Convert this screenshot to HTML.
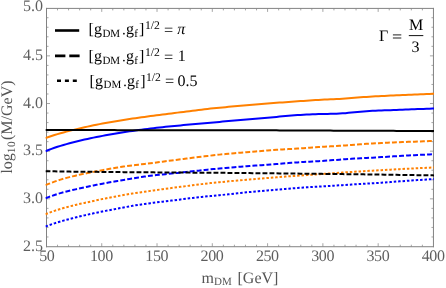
<!DOCTYPE html>
<html><head><meta charset="utf-8"><title>plot</title>
<style>
html,body{margin:0;padding:0;background:#fff;}
body{width:446px;height:288px;overflow:hidden;font-family:"Liberation Serif",serif;}
svg{display:block;will-change:transform;transform:translateZ(0);}
text{font-family:"Liberation Serif",serif;text-rendering:geometricPrecision;}
.tk{font-size:16px;fill:#5e5e5e;}
.lb{font-size:16px;fill:#555555;}
.lg{font-size:16px;fill:#000;}
</style></head><body>
<svg width="446" height="288" viewBox="0 0 446 288">
<rect width="446" height="288" fill="#fff"/>
<defs><clipPath id="cp"><rect x="45.4" y="7" width="388.7" height="241"/></clipPath></defs>

<path d="M46.5,7.9 V247.22 M433.45,7.9 V247.22 M46.0,8.4 H433.95 M46.0,246.72 H433.95" stroke="#828282" stroke-width="1" fill="none"/>
<g stroke="#888" stroke-width="0.75" fill="none">
<path d="M57.51,246.72 v-2.0 M57.51,8.4 v2.0"/>
<path d="M68.56,246.72 v-2.0 M68.56,8.4 v2.0"/>
<path d="M79.62,246.72 v-2.0 M79.62,8.4 v2.0"/>
<path d="M90.68,246.72 v-2.0 M90.68,8.4 v2.0"/>
<path d="M101.74,246.72 v-3.5 M101.74,8.4 v3.5"/>
<path d="M112.79,246.72 v-2.0 M112.79,8.4 v2.0"/>
<path d="M123.85,246.72 v-2.0 M123.85,8.4 v2.0"/>
<path d="M134.91,246.72 v-2.0 M134.91,8.4 v2.0"/>
<path d="M145.96,246.72 v-2.0 M145.96,8.4 v2.0"/>
<path d="M157.02,246.72 v-3.5 M157.02,8.4 v3.5"/>
<path d="M168.08,246.72 v-2.0 M168.08,8.4 v2.0"/>
<path d="M179.14,246.72 v-2.0 M179.14,8.4 v2.0"/>
<path d="M190.19,246.72 v-2.0 M190.19,8.4 v2.0"/>
<path d="M201.25,246.72 v-2.0 M201.25,8.4 v2.0"/>
<path d="M212.31,246.72 v-3.5 M212.31,8.4 v3.5"/>
<path d="M223.36,246.72 v-2.0 M223.36,8.4 v2.0"/>
<path d="M234.42,246.72 v-2.0 M234.42,8.4 v2.0"/>
<path d="M245.48,246.72 v-2.0 M245.48,8.4 v2.0"/>
<path d="M256.54,246.72 v-2.0 M256.54,8.4 v2.0"/>
<path d="M267.59,246.72 v-3.5 M267.59,8.4 v3.5"/>
<path d="M278.65,246.72 v-2.0 M278.65,8.4 v2.0"/>
<path d="M289.71,246.72 v-2.0 M289.71,8.4 v2.0"/>
<path d="M300.76,246.72 v-2.0 M300.76,8.4 v2.0"/>
<path d="M311.82,246.72 v-2.0 M311.82,8.4 v2.0"/>
<path d="M322.88,246.72 v-3.5 M322.88,8.4 v3.5"/>
<path d="M333.94,246.72 v-2.0 M333.94,8.4 v2.0"/>
<path d="M344.99,246.72 v-2.0 M344.99,8.4 v2.0"/>
<path d="M356.05,246.72 v-2.0 M356.05,8.4 v2.0"/>
<path d="M367.11,246.72 v-2.0 M367.11,8.4 v2.0"/>
<path d="M378.16,246.72 v-3.5 M378.16,8.4 v3.5"/>
<path d="M389.22,246.72 v-2.0 M389.22,8.4 v2.0"/>
<path d="M400.28,246.72 v-2.0 M400.28,8.4 v2.0"/>
<path d="M411.34,246.72 v-2.0 M411.34,8.4 v2.0"/>
<path d="M422.39,246.72 v-2.0 M422.39,8.4 v2.0"/>
<path d="M46.5,236.97 h2.0 M433.45,236.97 h-2.0"/>
<path d="M46.5,227.44 h2.0 M433.45,227.44 h-2.0"/>
<path d="M46.5,217.90 h2.0 M433.45,217.90 h-2.0"/>
<path d="M46.5,208.37 h2.0 M433.45,208.37 h-2.0"/>
<path d="M46.5,198.84 h3.5 M433.45,198.84 h-3.5"/>
<path d="M46.5,189.31 h2.0 M433.45,189.31 h-2.0"/>
<path d="M46.5,179.78 h2.0 M433.45,179.78 h-2.0"/>
<path d="M46.5,170.24 h2.0 M433.45,170.24 h-2.0"/>
<path d="M46.5,160.71 h2.0 M433.45,160.71 h-2.0"/>
<path d="M46.5,151.18 h3.5 M433.45,151.18 h-3.5"/>
<path d="M46.5,141.65 h2.0 M433.45,141.65 h-2.0"/>
<path d="M46.5,132.12 h2.0 M433.45,132.12 h-2.0"/>
<path d="M46.5,122.58 h2.0 M433.45,122.58 h-2.0"/>
<path d="M46.5,113.05 h2.0 M433.45,113.05 h-2.0"/>
<path d="M46.5,103.52 h3.5 M433.45,103.52 h-3.5"/>
<path d="M46.5,93.99 h2.0 M433.45,93.99 h-2.0"/>
<path d="M46.5,84.46 h2.0 M433.45,84.46 h-2.0"/>
<path d="M46.5,74.92 h2.0 M433.45,74.92 h-2.0"/>
<path d="M46.5,65.39 h2.0 M433.45,65.39 h-2.0"/>
<path d="M46.5,55.86 h3.5 M433.45,55.86 h-3.5"/>
<path d="M46.5,46.33 h2.0 M433.45,46.33 h-2.0"/>
<path d="M46.5,36.80 h2.0 M433.45,36.80 h-2.0"/>
<path d="M46.5,27.26 h2.0 M433.45,27.26 h-2.0"/>
<path d="M46.5,17.73 h2.0 M433.45,17.73 h-2.0"/>
</g>
<g clip-path="url(#cp)" fill="none" stroke-width="2" stroke-linejoin="round">
<path d="M45.5,138.17 L48.5,137.06 L51.5,136.02 L54.5,135.05 L57.5,134.13 L60.5,133.27 L63.5,132.44 L66.5,131.65 L69.5,130.88 L72.5,130.13 L75.5,129.40 L78.5,128.67 L81.5,127.96 L84.5,127.28 L87.5,126.61 L90.5,125.96 L93.5,125.33 L96.5,124.72 L99.5,124.13 L102.5,123.55 L105.5,123.00 L108.5,122.45 L111.5,121.93 L114.5,121.41 L117.5,120.91 L120.5,120.43 L123.5,119.95 L126.5,119.48 L129.5,119.03 L132.5,118.58 L135.5,118.15 L138.5,117.72 L141.5,117.30 L144.5,116.89 L147.5,116.49 L150.5,116.10 L153.5,115.71 L156.5,115.33 L159.5,114.94 L162.5,114.55 L165.5,114.16 L168.5,113.77 L171.5,113.39 L174.5,113.01 L177.5,112.63 L180.5,112.26 L183.5,111.89 L186.5,111.52 L189.5,111.15 L192.5,110.78 L195.5,110.40 L198.5,110.03 L201.5,109.67 L204.5,109.31 L207.5,108.96 L210.5,108.61 L213.5,108.29 L216.5,107.98 L219.5,107.69 L222.5,107.41 L225.5,107.14 L228.5,106.87 L231.5,106.60 L234.5,106.34 L237.5,106.08 L240.5,105.82 L243.5,105.55 L246.5,105.29 L249.5,105.02 L252.5,104.75 L255.5,104.49 L258.5,104.23 L261.5,103.97 L264.5,103.71 L267.5,103.47 L270.5,103.24 L273.5,103.01 L276.5,102.80 L279.5,102.59 L282.5,102.38 L285.5,102.17 L288.5,101.96 L291.5,101.75 L294.5,101.54 L297.5,101.33 L300.5,101.11 L303.5,100.90 L306.5,100.69 L309.5,100.48 L312.5,100.29 L315.5,100.10 L318.5,99.92 L321.5,99.76 L324.5,99.61 L327.5,99.47 L330.5,99.34 L333.5,99.22 L336.5,99.09 L339.5,98.93 L342.5,98.73 L345.5,98.51 L348.5,98.26 L351.5,98.02 L354.5,97.78 L357.5,97.55 L360.5,97.33 L363.5,97.12 L366.5,96.92 L369.5,96.73 L372.5,96.54 L375.5,96.37 L378.5,96.20 L381.5,96.04 L384.5,95.89 L387.5,95.74 L390.5,95.59 L393.5,95.45 L396.5,95.31 L399.5,95.18 L402.5,95.04 L405.5,94.91 L408.5,94.78 L411.5,94.65 L414.5,94.53 L417.5,94.41 L420.5,94.30 L423.5,94.18 L426.5,94.06 L429.5,93.95 L432.5,93.82 L434.1,93.76" stroke="#ff8000"/>
<path d="M45.5,185.11 L48.5,183.92 L51.5,182.78 L54.5,181.67 L57.5,180.63 L60.5,179.66 L63.5,178.76 L66.5,177.91 L69.5,177.13 L72.5,176.38 L75.5,175.66 L78.5,174.98 L81.5,174.33 L84.5,173.70 L87.5,173.08 L90.5,172.48 L93.5,171.89 L96.5,171.31 L99.5,170.74 L102.5,170.17 L105.5,169.60 L108.5,169.04 L111.5,168.49 L114.5,167.97 L117.5,167.48 L120.5,167.02 L123.5,166.59 L126.5,166.17 L129.5,165.77 L132.5,165.38 L135.5,165.01 L138.5,164.64 L141.5,164.28 L144.5,163.92 L147.5,163.55 L150.5,163.19 L153.5,162.82 L156.5,162.44 L159.5,162.05 L162.5,161.66 L165.5,161.25 L168.5,160.84 L171.5,160.44 L174.5,160.05 L177.5,159.66 L180.5,159.28 L183.5,158.91 L186.5,158.53 L189.5,158.16 L192.5,157.80 L195.5,157.43 L198.5,157.07 L201.5,156.71 L204.5,156.34 L207.5,155.98 L210.5,155.62 L213.5,155.28 L216.5,154.95 L219.5,154.63 L222.5,154.33 L225.5,154.03 L228.5,153.74 L231.5,153.46 L234.5,153.18 L237.5,152.91 L240.5,152.64 L243.5,152.39 L246.5,152.14 L249.5,151.90 L252.5,151.67 L255.5,151.43 L258.5,151.20 L261.5,150.96 L264.5,150.73 L267.5,150.49 L270.5,150.27 L273.5,150.04 L276.5,149.82 L279.5,149.61 L282.5,149.42 L285.5,149.24 L288.5,149.07 L291.5,148.91 L294.5,148.75 L297.5,148.57 L300.5,148.37 L303.5,148.16 L306.5,147.93 L309.5,147.70 L312.5,147.47 L315.5,147.25 L318.5,147.03 L321.5,146.82 L324.5,146.64 L327.5,146.46 L330.5,146.31 L333.5,146.17 L336.5,146.02 L339.5,145.84 L342.5,145.64 L345.5,145.41 L348.5,145.16 L351.5,144.92 L354.5,144.68 L357.5,144.45 L360.5,144.23 L363.5,144.02 L366.5,143.82 L369.5,143.64 L372.5,143.46 L375.5,143.29 L378.5,143.14 L381.5,142.99 L384.5,142.85 L387.5,142.72 L390.5,142.59 L393.5,142.47 L396.5,142.35 L399.5,142.23 L402.5,142.11 L405.5,141.99 L408.5,141.87 L411.5,141.75 L414.5,141.63 L417.5,141.51 L420.5,141.40 L423.5,141.28 L426.5,141.16 L429.5,141.05 L432.5,140.92 L434.1,140.86" stroke="#ff8000" stroke-dasharray="4.9 2.1"/>
<path d="M45.5,214.20 L48.5,213.02 L51.5,211.91 L54.5,210.86 L57.5,209.86 L60.5,208.93 L63.5,208.04 L66.5,207.21 L69.5,206.42 L72.5,205.67 L75.5,204.94 L78.5,204.24 L81.5,203.57 L84.5,202.91 L87.5,202.25 L90.5,201.59 L93.5,200.93 L96.5,200.27 L99.5,199.63 L102.5,199.01 L105.5,198.41 L108.5,197.84 L111.5,197.27 L114.5,196.71 L117.5,196.16 L120.5,195.61 L123.5,195.06 L126.5,194.53 L129.5,194.01 L132.5,193.52 L135.5,193.05 L138.5,192.60 L141.5,192.16 L144.5,191.72 L147.5,191.29 L150.5,190.87 L153.5,190.46 L156.5,190.04 L159.5,189.63 L162.5,189.21 L165.5,188.80 L168.5,188.39 L171.5,187.99 L174.5,187.59 L177.5,187.19 L180.5,186.80 L183.5,186.41 L186.5,186.02 L189.5,185.64 L192.5,185.25 L195.5,184.87 L198.5,184.50 L201.5,184.13 L204.5,183.78 L207.5,183.43 L210.5,183.10 L213.5,182.78 L216.5,182.47 L219.5,182.17 L222.5,181.89 L225.5,181.61 L228.5,181.35 L231.5,181.08 L234.5,180.82 L237.5,180.57 L240.5,180.31 L243.5,180.04 L246.5,179.77 L249.5,179.50 L252.5,179.23 L255.5,178.97 L258.5,178.72 L261.5,178.48 L264.5,178.25 L267.5,178.02 L270.5,177.79 L273.5,177.55 L276.5,177.30 L279.5,177.06 L282.5,176.82 L285.5,176.59 L288.5,176.37 L291.5,176.15 L294.5,175.94 L297.5,175.73 L300.5,175.51 L303.5,175.30 L306.5,175.09 L309.5,174.88 L312.5,174.67 L315.5,174.46 L318.5,174.25 L321.5,174.05 L324.5,173.84 L327.5,173.62 L330.5,173.40 L333.5,173.17 L336.5,172.95 L339.5,172.74 L342.5,172.53 L345.5,172.34 L348.5,172.14 L351.5,171.95 L354.5,171.76 L357.5,171.57 L360.5,171.38 L363.5,171.19 L366.5,171.01 L369.5,170.83 L372.5,170.66 L375.5,170.49 L378.5,170.33 L381.5,170.17 L384.5,170.00 L387.5,169.83 L390.5,169.66 L393.5,169.49 L396.5,169.32 L399.5,169.15 L402.5,168.99 L405.5,168.83 L408.5,168.67 L411.5,168.52 L414.5,168.38 L417.5,168.24 L420.5,168.10 L423.5,167.96 L426.5,167.82 L429.5,167.68 L432.5,167.54 L434.1,167.46" stroke="#ff8000" stroke-dasharray="2.5 1.9"/>
<path d="M45.5,151.23 L48.5,150.03 L51.5,148.89 L54.5,147.80 L57.5,146.78 L60.5,145.84 L63.5,144.95 L66.5,144.10 L69.5,143.28 L72.5,142.49 L75.5,141.73 L78.5,140.99 L81.5,140.28 L84.5,139.59 L87.5,138.92 L90.5,138.27 L93.5,137.64 L96.5,137.03 L99.5,136.44 L102.5,135.86 L105.5,135.30 L108.5,134.76 L111.5,134.23 L114.5,133.72 L117.5,133.23 L120.5,132.74 L123.5,132.27 L126.5,131.80 L129.5,131.35 L132.5,130.91 L135.5,130.48 L138.5,130.06 L141.5,129.66 L144.5,129.27 L147.5,128.90 L150.5,128.53 L153.5,128.16 L156.5,127.81 L159.5,127.47 L162.5,127.15 L165.5,126.84 L168.5,126.54 L171.5,126.24 L174.5,125.95 L177.5,125.67 L180.5,125.39 L183.5,125.12 L186.5,124.84 L189.5,124.56 L192.5,124.29 L195.5,124.01 L198.5,123.74 L201.5,123.47 L204.5,123.21 L207.5,122.95 L210.5,122.69 L213.5,122.42 L216.5,122.16 L219.5,121.88 L222.5,121.61 L225.5,121.34 L228.5,121.07 L231.5,120.80 L234.5,120.54 L237.5,120.28 L240.5,120.02 L243.5,119.76 L246.5,119.50 L249.5,119.23 L252.5,118.97 L255.5,118.71 L258.5,118.46 L261.5,118.20 L264.5,117.95 L267.5,117.69 L270.5,117.43 L273.5,117.16 L276.5,116.88 L279.5,116.60 L282.5,116.33 L285.5,116.06 L288.5,115.80 L291.5,115.54 L294.5,115.31 L297.5,115.09 L300.5,114.90 L303.5,114.72 L306.5,114.57 L309.5,114.44 L312.5,114.31 L315.5,114.21 L318.5,114.11 L321.5,114.03 L324.5,113.95 L327.5,113.89 L330.5,113.83 L333.5,113.79 L336.5,113.70 L339.5,113.56 L342.5,113.37 L345.5,113.13 L348.5,112.84 L351.5,112.55 L354.5,112.26 L357.5,111.97 L360.5,111.69 L363.5,111.43 L366.5,111.20 L369.5,111.00 L372.5,110.84 L375.5,110.70 L378.5,110.58 L381.5,110.47 L384.5,110.35 L387.5,110.24 L390.5,110.13 L393.5,110.02 L396.5,109.90 L399.5,109.80 L402.5,109.69 L405.5,109.58 L408.5,109.46 L411.5,109.35 L414.5,109.23 L417.5,109.11 L420.5,109.00 L423.5,108.88 L426.5,108.76 L429.5,108.65 L432.5,108.53 L434.1,108.46" stroke="#0000ff"/>
<path d="M45.5,198.26 L48.5,197.12 L51.5,196.03 L54.5,194.98 L57.5,194.00 L60.5,193.09 L63.5,192.25 L66.5,191.48 L69.5,190.76 L72.5,190.05 L75.5,189.36 L78.5,188.67 L81.5,188.00 L84.5,187.34 L87.5,186.69 L90.5,186.07 L93.5,185.45 L96.5,184.85 L99.5,184.27 L102.5,183.70 L105.5,183.14 L108.5,182.59 L111.5,182.05 L114.5,181.51 L117.5,180.99 L120.5,180.48 L123.5,179.97 L126.5,179.46 L129.5,178.96 L132.5,178.47 L135.5,177.97 L138.5,177.48 L141.5,177.02 L144.5,176.58 L147.5,176.17 L150.5,175.79 L153.5,175.43 L156.5,175.09 L159.5,174.77 L162.5,174.47 L165.5,174.18 L168.5,173.88 L171.5,173.58 L174.5,173.27 L177.5,172.94 L180.5,172.61 L183.5,172.27 L186.5,171.94 L189.5,171.61 L192.5,171.29 L195.5,170.97 L198.5,170.65 L201.5,170.33 L204.5,170.01 L207.5,169.69 L210.5,169.37 L213.5,169.07 L216.5,168.79 L219.5,168.51 L222.5,168.25 L225.5,167.99 L228.5,167.72 L231.5,167.45 L234.5,167.18 L237.5,166.91 L240.5,166.65 L243.5,166.41 L246.5,166.18 L249.5,165.96 L252.5,165.75 L255.5,165.54 L258.5,165.34 L261.5,165.14 L264.5,164.95 L267.5,164.74 L270.5,164.53 L273.5,164.31 L276.5,164.08 L279.5,163.83 L282.5,163.59 L285.5,163.34 L288.5,163.10 L291.5,162.84 L294.5,162.60 L297.5,162.38 L300.5,162.17 L303.5,161.98 L306.5,161.81 L309.5,161.64 L312.5,161.47 L315.5,161.31 L318.5,161.15 L321.5,160.98 L324.5,160.79 L327.5,160.58 L330.5,160.36 L333.5,160.12 L336.5,159.88 L339.5,159.64 L342.5,159.41 L345.5,159.20 L348.5,158.99 L351.5,158.79 L354.5,158.60 L357.5,158.43 L360.5,158.27 L363.5,158.12 L366.5,157.96 L369.5,157.80 L372.5,157.64 L375.5,157.47 L378.5,157.29 L381.5,157.12 L384.5,156.93 L387.5,156.75 L390.5,156.56 L393.5,156.37 L396.5,156.19 L399.5,156.00 L402.5,155.82 L405.5,155.64 L408.5,155.47 L411.5,155.31 L414.5,155.15 L417.5,155.00 L420.5,154.85 L423.5,154.70 L426.5,154.55 L429.5,154.40 L432.5,154.25 L434.1,154.17" stroke="#0000ff" stroke-dasharray="4.9 2.1"/>
<path d="M45.5,226.54 L48.5,225.39 L51.5,224.32 L54.5,223.33 L57.5,222.39 L60.5,221.49 L63.5,220.63 L66.5,219.81 L69.5,219.02 L72.5,218.25 L75.5,217.50 L78.5,216.77 L81.5,216.06 L84.5,215.37 L87.5,214.68 L90.5,214.01 L93.5,213.35 L96.5,212.70 L99.5,212.07 L102.5,211.46 L105.5,210.88 L108.5,210.31 L111.5,209.75 L114.5,209.19 L117.5,208.62 L120.5,208.05 L123.5,207.48 L126.5,206.91 L129.5,206.37 L132.5,205.85 L135.5,205.34 L138.5,204.86 L141.5,204.40 L144.5,203.96 L147.5,203.54 L150.5,203.14 L153.5,202.76 L156.5,202.39 L159.5,202.02 L162.5,201.66 L165.5,201.31 L168.5,200.96 L171.5,200.60 L174.5,200.23 L177.5,199.86 L180.5,199.48 L183.5,199.11 L186.5,198.73 L189.5,198.36 L192.5,198.00 L195.5,197.64 L198.5,197.29 L201.5,196.96 L204.5,196.64 L207.5,196.34 L210.5,196.04 L213.5,195.75 L216.5,195.46 L219.5,195.17 L222.5,194.89 L225.5,194.59 L228.5,194.27 L231.5,193.95 L234.5,193.61 L237.5,193.27 L240.5,192.95 L243.5,192.64 L246.5,192.35 L249.5,192.07 L252.5,191.80 L255.5,191.54 L258.5,191.27 L261.5,191.00 L264.5,190.73 L267.5,190.47 L270.5,190.21 L273.5,189.95 L276.5,189.70 L279.5,189.45 L282.5,189.20 L285.5,188.95 L288.5,188.70 L291.5,188.44 L294.5,188.20 L297.5,187.97 L300.5,187.75 L303.5,187.54 L306.5,187.35 L309.5,187.16 L312.5,186.98 L315.5,186.80 L318.5,186.62 L321.5,186.45 L324.5,186.27 L327.5,186.09 L330.5,185.90 L333.5,185.71 L336.5,185.51 L339.5,185.32 L342.5,185.13 L345.5,184.93 L348.5,184.74 L351.5,184.55 L354.5,184.36 L357.5,184.17 L360.5,183.98 L363.5,183.79 L366.5,183.60 L369.5,183.42 L372.5,183.24 L375.5,183.07 L378.5,182.89 L381.5,182.69 L384.5,182.49 L387.5,182.27 L390.5,182.05 L393.5,181.82 L396.5,181.59 L399.5,181.36 L402.5,181.14 L405.5,180.92 L408.5,180.71 L411.5,180.51 L414.5,180.31 L417.5,180.12 L420.5,179.92 L423.5,179.73 L426.5,179.54 L429.5,179.36 L432.5,179.18 L434.1,179.08" stroke="#0000ff" stroke-dasharray="2.5 1.9"/>
<path d="M45.5,129.89 L48.5,129.91 L51.5,129.93 L54.5,129.95 L57.5,129.96 L60.5,129.98 L63.5,129.99 L66.5,130.00 L69.5,130.02 L72.5,130.03 L75.5,130.04 L78.5,130.05 L81.5,130.06 L84.5,130.06 L87.5,130.07 L90.5,130.08 L93.5,130.09 L96.5,130.09 L99.5,130.10 L102.5,130.10 L105.5,130.11 L108.5,130.11 L111.5,130.12 L114.5,130.12 L117.5,130.13 L120.5,130.13 L123.5,130.13 L126.5,130.14 L129.5,130.14 L132.5,130.14 L135.5,130.14 L138.5,130.14 L141.5,130.15 L144.5,130.15 L147.5,130.15 L150.5,130.15 L153.5,130.16 L156.5,130.16 L159.5,130.17 L162.5,130.18 L165.5,130.18 L168.5,130.19 L171.5,130.19 L174.5,130.20 L177.5,130.20 L180.5,130.21 L183.5,130.21 L186.5,130.22 L189.5,130.22 L192.5,130.23 L195.5,130.23 L198.5,130.23 L201.5,130.24 L204.5,130.24 L207.5,130.25 L210.5,130.25 L213.5,130.25 L216.5,130.26 L219.5,130.26 L222.5,130.26 L225.5,130.27 L228.5,130.27 L231.5,130.27 L234.5,130.28 L237.5,130.28 L240.5,130.28 L243.5,130.29 L246.5,130.29 L249.5,130.29 L252.5,130.29 L255.5,130.30 L258.5,130.30 L261.5,130.31 L264.5,130.32 L267.5,130.33 L270.5,130.35 L273.5,130.36 L276.5,130.37 L279.5,130.39 L282.5,130.40 L285.5,130.42 L288.5,130.43 L291.5,130.44 L294.5,130.46 L297.5,130.47 L300.5,130.49 L303.5,130.50 L306.5,130.51 L309.5,130.53 L312.5,130.54 L315.5,130.55 L318.5,130.57 L321.5,130.58 L324.5,130.59 L327.5,130.61 L330.5,130.62 L333.5,130.63 L336.5,130.65 L339.5,130.66 L342.5,130.67 L345.5,130.69 L348.5,130.70 L351.5,130.71 L354.5,130.73 L357.5,130.74 L360.5,130.75 L363.5,130.76 L366.5,130.78 L369.5,130.79 L372.5,130.80 L375.5,130.81 L378.5,130.82 L381.5,130.83 L384.5,130.84 L387.5,130.85 L390.5,130.86 L393.5,130.87 L396.5,130.88 L399.5,130.89 L402.5,130.90 L405.5,130.91 L408.5,130.92 L411.5,130.93 L414.5,130.94 L417.5,130.95 L420.5,130.96 L423.5,130.97 L426.5,130.98 L429.5,130.99 L432.5,130.99 L434.1,131.00" stroke="#000000"/>
<path d="M45.5,171.15 L48.5,171.24 L51.5,171.31 L54.5,171.37 L57.5,171.43 L60.5,171.48 L63.5,171.53 L66.5,171.57 L69.5,171.61 L72.5,171.65 L75.5,171.68 L78.5,171.72 L81.5,171.75 L84.5,171.78 L87.5,171.80 L90.5,171.82 L93.5,171.85 L96.5,171.87 L99.5,171.89 L102.5,171.92 L105.5,171.95 L108.5,171.98 L111.5,172.01 L114.5,172.04 L117.5,172.07 L120.5,172.10 L123.5,172.13 L126.5,172.16 L129.5,172.19 L132.5,172.21 L135.5,172.24 L138.5,172.26 L141.5,172.29 L144.5,172.31 L147.5,172.33 L150.5,172.35 L153.5,172.37 L156.5,172.39 L159.5,172.41 L162.5,172.44 L165.5,172.46 L168.5,172.48 L171.5,172.50 L174.5,172.52 L177.5,172.54 L180.5,172.56 L183.5,172.58 L186.5,172.60 L189.5,172.62 L192.5,172.64 L195.5,172.65 L198.5,172.67 L201.5,172.69 L204.5,172.70 L207.5,172.72 L210.5,172.74 L213.5,172.76 L216.5,172.78 L219.5,172.81 L222.5,172.84 L225.5,172.87 L228.5,172.90 L231.5,172.93 L234.5,172.96 L237.5,172.99 L240.5,173.02 L243.5,173.05 L246.5,173.08 L249.5,173.11 L252.5,173.14 L255.5,173.17 L258.5,173.19 L261.5,173.22 L264.5,173.25 L267.5,173.28 L270.5,173.31 L273.5,173.34 L276.5,173.37 L279.5,173.41 L282.5,173.44 L285.5,173.47 L288.5,173.51 L291.5,173.54 L294.5,173.57 L297.5,173.60 L300.5,173.64 L303.5,173.67 L306.5,173.70 L309.5,173.73 L312.5,173.76 L315.5,173.79 L318.5,173.82 L321.5,173.86 L324.5,173.89 L327.5,173.92 L330.5,173.96 L333.5,174.00 L336.5,174.04 L339.5,174.07 L342.5,174.11 L345.5,174.15 L348.5,174.19 L351.5,174.22 L354.5,174.26 L357.5,174.30 L360.5,174.34 L363.5,174.37 L366.5,174.41 L369.5,174.45 L372.5,174.48 L375.5,174.52 L378.5,174.56 L381.5,174.60 L384.5,174.64 L387.5,174.69 L390.5,174.73 L393.5,174.78 L396.5,174.83 L399.5,174.88 L402.5,174.92 L405.5,174.97 L408.5,175.02 L411.5,175.06 L414.5,175.11 L417.5,175.15 L420.5,175.20 L423.5,175.25 L426.5,175.29 L429.5,175.33 L432.5,175.37 L434.1,175.39" stroke="#000000" stroke-dasharray="4.9 2.1"/>
</g>
<text class="tk" x="46.8" y="260.6" text-anchor="middle" letter-spacing="-0.4">50</text>
<text class="tk" x="101.4" y="260.6" text-anchor="middle" letter-spacing="-0.4">100</text>
<text class="tk" x="156.7" y="260.6" text-anchor="middle" letter-spacing="-0.4">150</text>
<text class="tk" x="212.0" y="260.6" text-anchor="middle" letter-spacing="-0.4">200</text>
<text class="tk" x="267.3" y="260.6" text-anchor="middle" letter-spacing="-0.4">250</text>
<text class="tk" x="322.6" y="260.6" text-anchor="middle" letter-spacing="-0.4">300</text>
<text class="tk" x="377.9" y="260.6" text-anchor="middle" letter-spacing="-0.4">350</text>
<text class="tk" x="433.1" y="260.6" text-anchor="middle" letter-spacing="-0.4">400</text>
<text class="tk" x="42.9" y="250.5" text-anchor="end">2.5</text>
<text class="tk" x="42.9" y="202.8" text-anchor="end">3.0</text>
<text class="tk" x="42.9" y="155.2" text-anchor="end">3.5</text>
<text class="tk" x="42.9" y="107.5" text-anchor="end">4.0</text>
<text class="tk" x="42.9" y="59.9" text-anchor="end">4.5</text>
<text class="tk" x="42.9" y="10.8" text-anchor="end">5.0</text>
<text class="lb" x="201.5" y="282.8">m<tspan font-size="11" dy="2.5">DM</tspan><tspan dy="-2.5" dx="6"> </tspan></text>
<text class="lb" x="237.5" y="282.8">[GeV]</text>
<text class="lb" transform="translate(11.5,173.6) rotate(-90)">log<tspan font-size="11.3" dy="3.2" letter-spacing="0.6">10</tspan><tspan dy="-3.2" dx="0.7">(M/GeV)</tspan></text>
<line x1="55" x2="79.2" y1="30.5" y2="30.5" stroke="#000" stroke-width="2.6"/><text class="lg" x="88.5" y="34.0" style="font-size:16px">[</text><text class="lg" x="93.9" y="34.0" style="font-size:16px">g</text><text class="lg" x="102.4" y="36.6" style="font-size:11px">DM</text><circle cx="123.9" cy="33.7" r="0.85" fill="#000"/><text class="lg" x="126.0" y="34.0" style="font-size:16px">g</text><text class="lg" x="134.2" y="36.6" style="font-size:11px">f</text><text class="lg" x="139.1" y="34.0" style="font-size:16px">]</text><text class="lg" x="144.9" y="28.8" style="font-size:11.7px">1/2</text><text class="lg" x="164.0" y="34.7" style="font-size:16px" textLength="9.2" lengthAdjust="spacingAndGlyphs">=</text><text class="lg" x="177.2" y="34.0" style="font-size:16px" font-style="italic">π</text>
<line x1="55" x2="79.6" y1="55.9" y2="55.9" stroke="#000" stroke-width="2.6" stroke-dasharray="10.4 3.9"/><text class="lg" x="88.5" y="60.9" style="font-size:16px">[</text><text class="lg" x="93.9" y="60.9" style="font-size:16px">g</text><text class="lg" x="102.4" y="63.5" style="font-size:11px">DM</text><circle cx="123.9" cy="60.6" r="0.85" fill="#000"/><text class="lg" x="126.0" y="60.9" style="font-size:16px">g</text><text class="lg" x="134.2" y="63.5" style="font-size:11px">f</text><text class="lg" x="139.1" y="60.9" style="font-size:16px">]</text><text class="lg" x="144.9" y="55.699999999999996" style="font-size:11.7px">1/2</text><text class="lg" x="164.0" y="61.6" style="font-size:16px" textLength="9.2" lengthAdjust="spacingAndGlyphs">=</text><text class="lg" x="177.8" y="60.9" style="font-size:16px">1</text>
<line x1="57" x2="77" y1="80.8" y2="80.8" stroke="#000" stroke-width="2.6" stroke-dasharray="4 3.9"/><text class="lg" x="89.6" y="85.7" style="font-size:16px">[</text><text class="lg" x="95.0" y="85.7" style="font-size:16px">g</text><text class="lg" x="103.5" y="88.3" style="font-size:11px">DM</text><circle cx="125.0" cy="85.4" r="0.85" fill="#000"/><text class="lg" x="127.1" y="85.7" style="font-size:16px">g</text><text class="lg" x="135.3" y="88.3" style="font-size:11px">f</text><text class="lg" x="140.2" y="85.7" style="font-size:16px">]</text><text class="lg" x="146.0" y="80.5" style="font-size:11.7px">1/2</text><text class="lg" x="165.1" y="86.4" style="font-size:16px" textLength="9.2" lengthAdjust="spacingAndGlyphs">=</text><text class="lg" x="177.4" y="85.7" style="font-size:16px">0.5</text>
<text class="lg" x="379" y="40.8">Γ</text>
<rect x="392.9" y="34.4" width="8.4" height="1.0" fill="#222"/><rect x="392.9" y="37.5" width="8.4" height="1.0" fill="#222"/>
<text class="lg" x="416" y="29.8" text-anchor="middle">M</text>
<rect x="408.8" y="35.1" width="14.5" height="1" fill="#111"/>
<text class="lg" x="415.6" y="52.4" text-anchor="middle">3</text>
</svg></body></html>
